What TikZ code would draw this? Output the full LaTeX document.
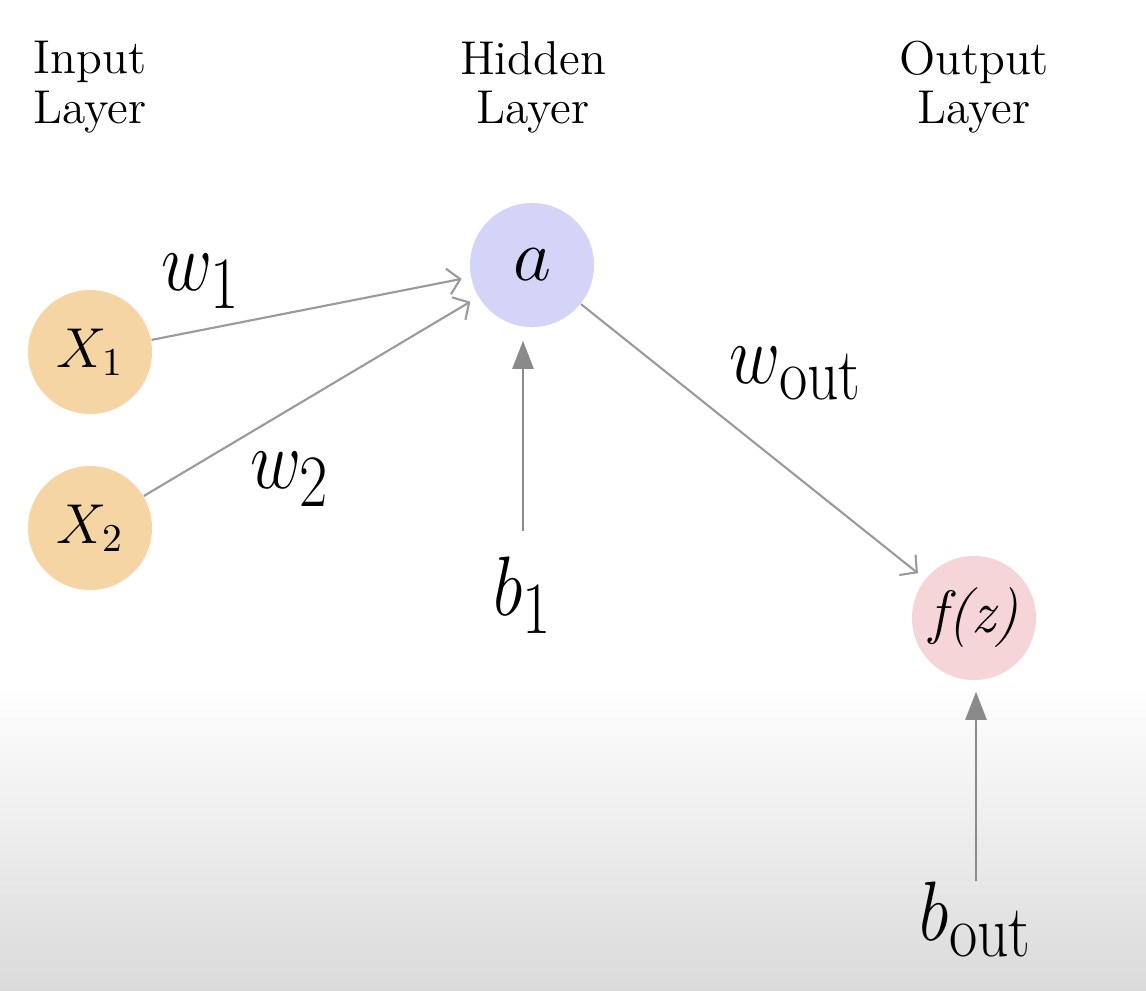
\RequirePackage{fix-cm}
\documentclass[tikz,border=0pt]{standalone}
\usepackage[no-math]{fontspec}
\usepackage{graphicx}
\usetikzlibrary{arrows.meta}
\DeclareMathSizes{20}{20}{17.5}{12}
\newcommand{\tallmath}[1]{\scalebox{1}[1.2]{$#1$}}
\definecolor{inputcol}{HTML}{F6D5A4}
\definecolor{hiddencol}{HTML}{D4D4F8}
\definecolor{outcol}{HTML}{F5D5D7}
\definecolor{wirecol}{HTML}{9A9A9A}
\definecolor{biascol}{HTML}{8A8A8A}
\definecolor{floorcol}{HTML}{DADADA}
\begin{document}
\begin{tikzpicture}[x=0.01cm, y=-0.01cm,
  every node/.style={inner sep=0pt},
  neuron/.style={circle, minimum size=1.24cm},
  layer/.style={align=center, font=\fontsize{13.5}{14}\selectfont},
  weight/.style={anchor=base, font=\fontsize{20}{24}\selectfont},
  wire/.style={draw=wirecol, line width=0.6pt, -{Straight Barb[length=0.12cm, width=0.26cm]}, shorten >=0.09cm},
  bias/.style={draw=biascol, line width=0.7pt, -{Triangle[length=0.28cm, width=0.21cm]}}]
\shade[top color=white, bottom color=floorcol] (0,680) rectangle (1146,990);
\useasboundingbox (0,0) rectangle (1146,990);
\node[layer] (lin) at (90, 87) {Input\\Layer};
\node[layer] (lhid) at (533, 87) {Hidden\\Layer};
\node[layer] (lout) at (974, 87) {Output\\Layer};
\node[neuron, fill=inputcol, font=\fontsize{16}{18}\selectfont] (x1) at (90, 352) {$X_1$};
\node[neuron, fill=inputcol, font=\fontsize{16}{18}\selectfont] (x2) at (90, 528) {$X_2$};
\node[neuron, fill=hiddencol, font=\fontsize{21}{24}\selectfont] (a) at (532, 265) {$a$};
\node[neuron, fill=outcol, font=\fontsize{17}{19}\selectfont] (fz) at (974, 618) {\textit{f(z)}};
\node[weight] (w1) at (201, 290) {\tallmath{w_1}};
\node[weight] (w2) at (290, 488) {\tallmath{w_2}};
\node[weight] (wout) at (796, 383) {\tallmath{w_{\mathrm{out}}}};
\node[weight] (b1) at (523, 615) {\tallmath{b_1}};
\node[weight] (bout) at (976, 940) {\tallmath{b_{\mathrm{out}}}};
\draw[wire] (x1) -- (a);
\draw[wire] (x2) -- (a);
\draw[wire] (a) -- (fz);
\draw[bias, shorten <=0.25cm, shorten >=0.13cm] (b1.north) -- (b1.north |- a.south);
\draw[bias, shorten >=0.11cm] (bout.north) -- (bout.north |- fz.south);
\end{tikzpicture}
\end{document}
